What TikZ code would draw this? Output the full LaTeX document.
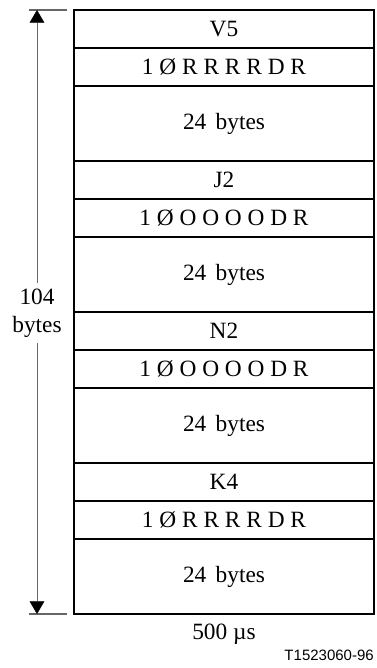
\documentclass[tikz,border=0pt]{standalone}
\usepackage{fontspec}
\setmainfont{Liberation Serif}
\newfontfamily\figfont{Liberation Sans}
\usetikzlibrary{arrows.meta,positioning}
\tikzset {
  >={Triangle[width=11pt,length=9.5pt,color=black]},
  every node/.style={font=\fontsize{17.5}{21}\selectfont},
  rowline/.style={line width=1.3pt},
  tick/.style={black!60,line width=1pt},
}

\begin{document}
\begin{tikzpicture}[x=0.75pt,y=-0.75pt]
          \useasboundingbox (0,0) rectangle (377,668);
          \coordinate (top) at (37,10);
          \coordinate (bot) at (37,614);
          % frame and row lines
          \draw[line width=0.9pt] (74,10) rectangle (374,614);
          \foreach \y in {161,312,463}
            \draw[rowline] (74,\y) -- (374,\y);
          \foreach \name/\bit [count=\i from 0] in {V5/R,J2/O,N2/O,K4/R} {
            \pgfmathsetmacro\y{10+151*\i}
            \draw[rowline] (74,{\y+38}) -- (374,{\y+38});
            \draw[rowline] (74,{\y+76}) -- (374,{\y+76});
            \node (ovh\i) at (224,{\y+19}) {\name};
            \node (bits\i) at (224,{\y+57}) {1 Ø \bit\ \bit\ \bit\ \bit\ D R};
            \node (pay\i) at (224,{\y+113.5}) {24\hspace{0.4em}bytes};
          }
          % length of the multiframe
          \draw[tick] (29,10) -- (67,10);
          \draw[tick] (29,614) -- (67,614);
          \node[align=center,inner sep=4pt] (len) at (37,313) {104\\bytes};
          \draw[->,black!60] (len) -- (top);
          \draw[->,black!60] (len) -- (bot);
          \node (dur) at (224,634) {500 µs};
          \node[anchor=east,inner sep=0pt,font=\figfont\fontsize{11.25}{13}\selectfont] (fig) at (374,655) {T1523060-96};
        \end{tikzpicture}
\end{document}
